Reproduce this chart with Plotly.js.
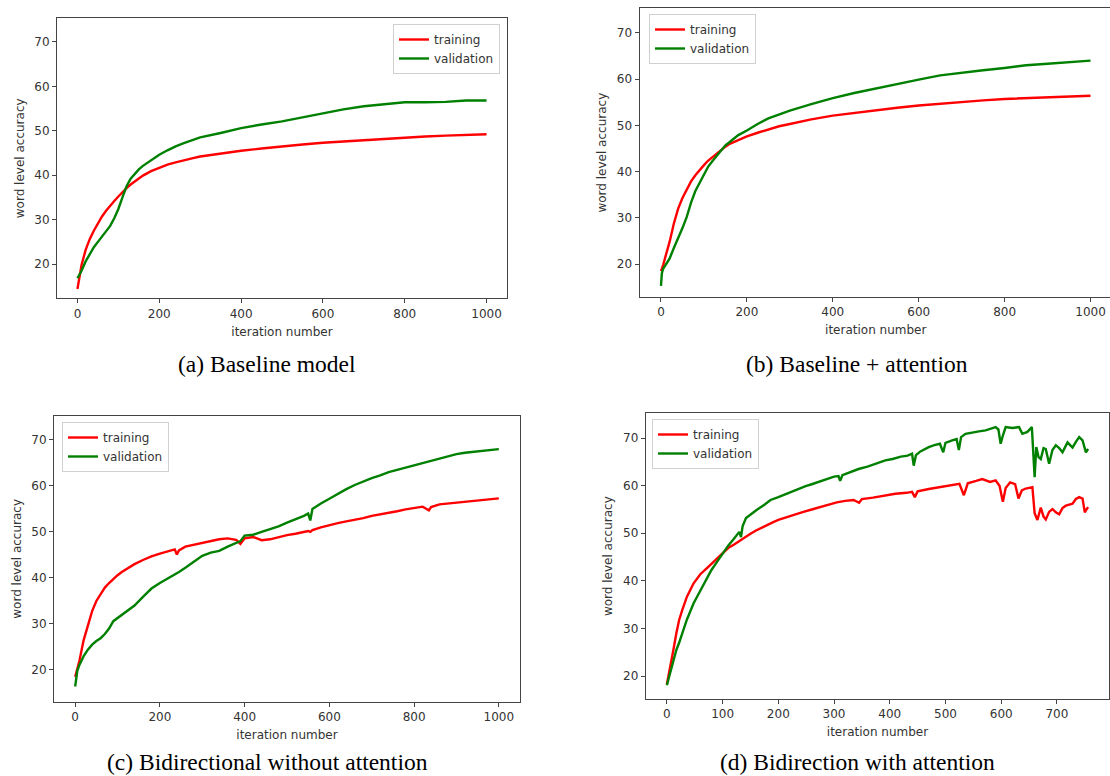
<!DOCTYPE html>
<html>
<head>
<meta charset="utf-8">
<script src="https://cdn.plot.ly/plotly-3.0.1.min.js"></script>
<style>
  html, body { margin: 0; padding: 0; background: #fff; overflow: hidden; }
  #chart { width: 1114px; height: 776px; }
</style>
</head>
<body>
<div id="chart"></div>
<script>
// ---------------- DATA ----------------
const seriesNames = ["training", "validation"];
const captions = ["(a) Baseline model", "(b) Baseline + attention", "(c) Bidirectional without attention", "(d) Bidirection with attention"];
const xTitle = "iteration number";
const yTitle = "word level accuracy";
const yTicks = [20, 30, 40, 50, 60, 70];
const xTicks1000 = [0, 200, 400, 600, 800, 1000];
const xTicks700 = [0, 100, 200, 300, 400, 500, 600, 700];

// (a) Baseline model
const aX = [0,5,10,20,30,40,50,60,70,80,90,100,110,120,130,140,150,160,180,200,220,240,260,280,300,350,400,450,500,550,600,650,700,750,800,850,900,950,1000];
const aTrain = [14.4,17.6,19.8,23.2,25.6,27.5,29.2,30.7,32.0,33.2,34.2,35.2,36.2,37.1,37.9,38.6,39.3,39.9,40.9,41.7,42.4,42.9,43.4,43.8,44.2,44.9,45.5,46.0,46.5,46.9,47.3,47.6,47.9,48.2,48.5,48.7,48.9,49.1,49.2];
const aVal = [16.8,17.5,18.5,20.6,22.2,23.8,25.0,26.2,27.4,28.6,30.3,32.4,35.0,37.5,39.2,40.3,41.3,42.1,43.4,44.6,45.6,46.5,47.2,47.8,48.5,49.5,50.6,51.4,52.1,53.0,53.9,54.8,55.5,56.0,56.4,56.4,56.5,56.8,56.8];

// (b) Baseline + attention
const bX = [0,2,5,10,20,30,40,50,60,70,80,90,100,110,120,130,140,150,160,180,200,225,250,275,300,350,400,450,500,550,600,650,700,750,800,850,900,950,1000];
const bTrain = [18.5,19.0,19.8,21.5,24.8,28.8,32.0,34.3,36.2,37.9,39.2,40.4,41.4,42.4,43.2,44.0,44.7,45.4,46.0,46.8,47.6,48.4,49.1,49.8,50.3,51.3,52.1,52.7,53.3,53.8,54.3,54.7,55.1,55.4,55.7,55.9,56.1,56.3,56.4];
const bVal = [15.3,18.0,19.0,19.8,21.2,23.5,25.6,27.8,30.2,33.3,35.8,37.6,39.5,41.1,42.3,43.5,44.7,45.7,46.4,47.9,48.9,50.3,51.5,52.4,53.2,54.6,55.9,57.0,58.0,58.9,59.9,60.8,61.4,61.9,62.4,63.0,63.3,63.6,64.0];

// (c) Bidirectional without attention
const cX = [0,2,5,10,20,30,40,50,60,70,80,90,100,110,120,140,160,180,200,220,235,240,245,260,280,300,320,340,360,380,390,400,420,440,460,480,500,520,540,550,555,560,580,600,620,640,660,680,700,720,740,760,780,800,820,835,840,860,880,900,920,940,960,980,1000];
const cTrain = [18.5,19.2,20.3,22.0,26.5,29.8,32.8,35.0,36.6,37.9,38.9,39.8,40.6,41.3,41.9,43.0,43.9,44.7,45.3,45.8,46.2,45.1,46.0,46.8,47.2,47.6,48.0,48.4,48.6,48.3,47.4,48.6,48.9,48.2,48.4,48.9,49.3,49.6,49.9,50.2,50.0,50.4,51.0,51.5,51.9,52.3,52.6,53.0,53.5,53.8,54.2,54.5,54.9,55.2,55.5,54.7,55.4,56.0,56.2,56.4,56.5,56.7,56.9,57.1,57.3];
const cVal = [16.4,18.5,19.8,21.1,23.0,24.4,25.5,26.3,26.9,27.8,29.0,30.6,31.3,31.9,32.6,34.0,35.9,37.7,38.9,39.9,40.8,41.0,41.3,42.2,43.5,44.8,45.5,45.9,46.8,47.6,48.0,49.2,49.4,50.0,50.6,51.2,52.0,52.7,53.5,54.0,52.5,55.0,56.2,57.2,58.3,59.3,60.2,61.0,61.7,62.3,63.0,63.5,64.0,64.5,65.0,65.4,65.5,66.0,66.5,66.9,67.2,67.4,67.7,67.9,68.0];

// (d) Bidirection with attention
const dTrainX = [0,3,7,12,17,22,28,36,48,60,70,80,90,100,110,120,130,140,150,160,175,190,200,215,230,245,260,275,290,305,320,335,345,350,370,390,410,430,440,445,450,470,490,510,525,533,540,555,566,580,590,597,603,608,616,625,631,637,644,656,660,665,671,676,680,686,692,698,704,710,716,722,728,734,740,746,750,753,756];
const dTrain = [18.3,20.0,22.6,25.7,29.0,31.8,34.0,36.7,39.5,41.4,42.5,43.6,44.8,45.9,46.9,47.6,48.4,49.1,49.9,50.6,51.5,52.3,52.8,53.4,54.0,54.5,55.0,55.5,56.1,56.5,56.8,57.0,56.4,57.2,57.5,57.9,58.3,58.5,58.7,57.6,58.8,59.3,59.7,60.1,60.4,58.0,60.5,61.0,61.4,60.8,61.1,60.0,56.6,59.5,60.7,60.3,57.3,59.0,59.4,59.7,54.2,52.8,55.4,53.5,52.9,54.5,55.1,54.4,54.0,55.3,55.8,56.0,56.2,57.2,57.6,57.3,54.4,55.0,55.5];
const dValX = [0,3,7,12,17,22,28,36,48,61,70,80,90,98,110,120,130,133,136,142,150,161,175,186,200,217,233,249,260,274,290,300,308,311,315,330,344,360,376,392,405,420,432,440,443,447,455,470,480,490,496,500,512,520,524,528,536,550,560,572,580,590,595,599,603,608,620,632,638,647,655,660,663,667,671,676,680,686,692,698,704,710,719,728,734,740,746,752,756];
const dVal = [18.1,19.5,21.0,23.3,25.5,27.0,29.3,31.9,35.3,38.1,40.0,42.3,44.0,45.4,47.4,48.8,50.3,49.2,51.5,53.2,54.0,54.9,56.0,57.0,57.6,58.4,59.2,59.9,60.3,60.9,61.6,61.9,62.0,61.0,62.2,62.9,63.5,64.0,64.7,65.3,65.6,66.1,66.3,66.7,64.2,66.4,67.2,68.1,68.5,68.8,67.0,69.0,69.5,69.8,67.5,70.2,70.9,71.1,71.4,71.6,71.9,72.3,71.8,68.8,70.5,72.3,72.1,72.3,70.9,71.3,72.3,61.8,68.1,66.0,65.6,67.9,67.7,64.6,67.5,68.5,67.9,67.0,69.1,68.0,69.2,70.2,69.5,67.0,67.7];

// ---------------- LAYOUT HELPERS ----------------
const W = 1114, H = 776;
const fx = (a, b) => [a / W, b / W];
const fy = (top, bottom) => [1 - bottom / H, 1 - top / H];

const RED = '#ff0000', GREEN = '#008000';
const tickFont = { family: 'DejaVu Sans', size: 12, color: '#333' };

function mkTrace(x, y, name, color, n) {
  return {
    x: x, y: y, name: name, type: 'scatter', mode: 'lines',
    line: { color: color, width: 2.4 },
    xaxis: 'x' + (n === 1 ? '' : n), yaxis: 'y' + (n === 1 ? '' : n),
    legend: n === 1 ? 'legend' : 'legend' + n,
    showlegend: true, hoverinfo: 'skip'
  };
}

const traces = [
  mkTrace(aX, aTrain, seriesNames[0], RED, 1), mkTrace(aX, aVal, seriesNames[1], GREEN, 1),
  mkTrace(bX, bTrain, seriesNames[0], RED, 2), mkTrace(bX, bVal, seriesNames[1], GREEN, 2),
  mkTrace(cX, cTrain, seriesNames[0], RED, 3), mkTrace(cX, cVal, seriesNames[1], GREEN, 3),
  mkTrace(dTrainX, dTrain, seriesNames[0], RED, 4), mkTrace(dValX, dVal, seriesNames[1], GREEN, 4)
];

function xAxis(dom, range, ticks, anchor) {
  return {
    domain: dom, range: range, anchor: anchor,
    tickmode: 'array', tickvals: ticks,
    showline: true, mirror: true, linecolor: '#444', linewidth: 1,
    ticks: 'outside', ticklen: 4, tickcolor: '#444', tickwidth: 1,
    showgrid: false, zeroline: false, tickfont: tickFont,
    title: { text: xTitle, font: tickFont, standoff: 7 }
  };
}
function yAxis(dom, range, anchor) {
  return {
    domain: dom, range: range, anchor: anchor,
    tickmode: 'array', tickvals: yTicks,
    showline: true, mirror: true, linecolor: '#444', linewidth: 1,
    ticks: 'outside', ticklen: 4, tickcolor: '#444', tickwidth: 1,
    showgrid: false, zeroline: false, tickfont: tickFont,
    title: { text: yTitle, font: tickFont, standoff: 7 }
  };
}
function legendAt(x, y, xanchor) {
  return {
    x: x / W, y: 1 - y / H, xanchor: xanchor, yanchor: 'top',
    bgcolor: 'rgba(255,255,255,0.8)', bordercolor: '#d0d0d0', borderwidth: 1,
    font: { family: 'DejaVu Sans', size: 12, color: '#333' },
    tracegroupgap: 0, itemwidth: 30
  };
}
function caption(text, cx, cy) {
  return {
    text: text, xref: 'paper', yref: 'paper', x: cx / W, y: 1 - cy / H,
    xanchor: 'center', yanchor: 'middle', showarrow: false,
    font: { family: 'Liberation Serif', size: 23.5, color: '#000' }
  };
}

const layout = {
  width: W, height: H,
  margin: { l: 0, r: 0, t: 0, b: 0 },
  paper_bgcolor: '#fff', plot_bgcolor: '#fff',
  showlegend: true,
  xaxis:  xAxis(fx(57, 507), [-50, 1050], xTicks1000, 'y'),
  yaxis:  yAxis(fy(18.3, 298.3), [12.3, 75.3], 'x'),
  xaxis2: xAxis(fx(639.5, 1112), [-50, 1050], xTicks1000, 'y2'),
  yaxis2: yAxis(fy(8.3, 297), [12.9, 75.3], 'x2'),
  xaxis3: xAxis(fx(54, 520), [-50, 1050], xTicks1000, 'y3'),
  yaxis3: yAxis(fy(416, 701.7), [13.1, 75.2], 'x3'),
  xaxis4: xAxis(fx(645.7, 1109.3), [-38, 794], xTicks700, 'y4'),
  yaxis4: yAxis(fy(413.3, 699), [15.2, 75.2], 'x4'),
  legend:  legendAt(500, 24, 'right'),
  legend2: legendAt(649, 14, 'left'),
  legend3: legendAt(62, 422, 'left'),
  legend4: legendAt(652, 419, 'left'),
  annotations: [
    caption(captions[0], 267, 364),
    caption(captions[1], 857, 364),
    caption(captions[2], 267, 762),
    caption(captions[3], 857, 762)
  ]
};

Plotly.newPlot('chart', traces, layout, { staticPlot: true, displayModeBar: false });
</script>
</body>
</html>
